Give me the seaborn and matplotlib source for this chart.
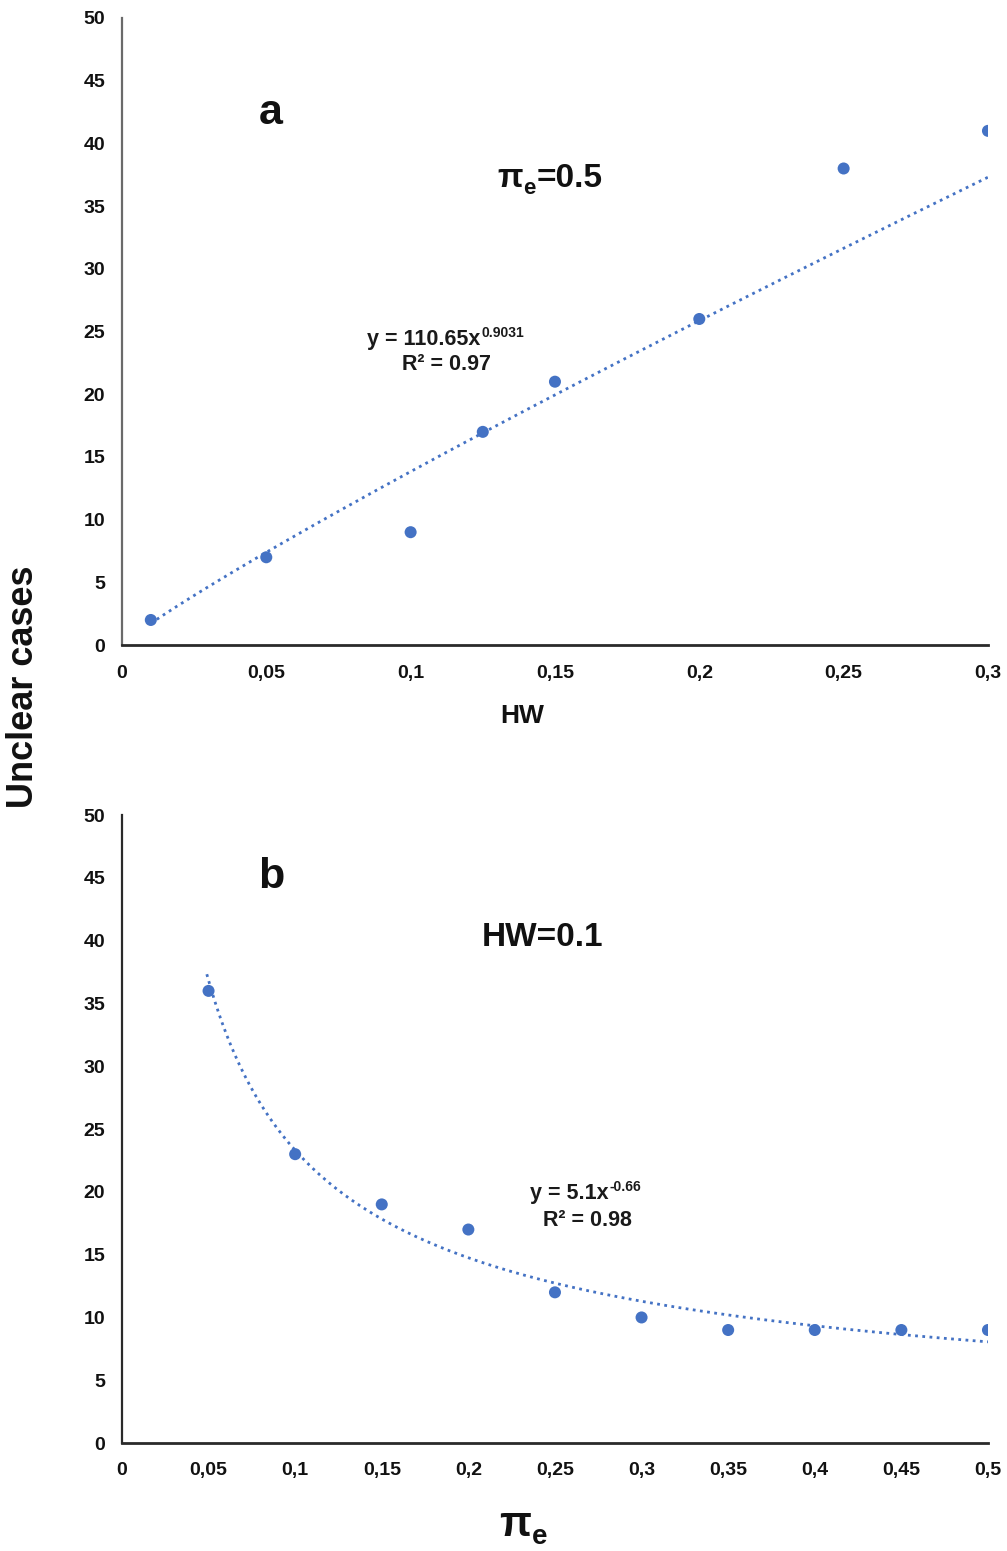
import numpy as np
import pandas as pd
import matplotlib
matplotlib.use("Agg")
import matplotlib.pyplot as plt
import seaborn as sns

# Panel a: unclear cases versus HW (pi_e = 0.5)
hw_values = [0.01, 0.05, 0.1, 0.125, 0.15, 0.2, 0.25, 0.3]
hw_cases = [2, 7, 9, 17, 21, 26, 38, 41]
fit_a_coef, fit_a_exp = 110.65, 0.9031

# Panel b: unclear cases versus pi_e (HW = 0.1)
pie_values = [0.05, 0.1, 0.15, 0.2, 0.25, 0.3, 0.35, 0.4, 0.45, 0.5]
pie_cases = [36, 23, 19, 17, 12, 10, 9, 9, 9, 9]
fit_b_coef, fit_b_exp = 5.1, -0.66

y_ticks = [0, 5, 10, 15, 20, 25, 30, 35, 40, 45, 50]
x_ticks_a = [0, 0.05, 0.1, 0.15, 0.2, 0.25, 0.3]
x_labels_a = ["0", "0,05", "0,1", "0,15", "0,2", "0,25", "0,3"]
x_ticks_b = [0, 0.05, 0.1, 0.15, 0.2, 0.25, 0.3, 0.35, 0.4, 0.45, 0.5]
x_labels_b = ["0", "0,05", "0,1", "0,15", "0,2", "0,25", "0,3", "0,35", "0,4", "0,45", "0,5"]

sns.set_theme(style="white")
plt.rcParams["font.family"] = ["Liberation Sans", "DejaVu Sans"]
plt.rcParams["font.weight"] = "bold"

BLUE = "#4472C4"
INK = "#111111"

W, H = 1007, 1551
fig = plt.figure(figsize=(W / 100, H / 100), dpi=100)
ax_a = fig.add_axes([0.1211, 0.5841, 0.860, 0.4043])
ax_b = fig.add_axes([0.1211, 0.0696, 0.860, 0.4049])


def fx(px):
    return px / W


def fy(py):
    return 1 - py / H


def style_axis(ax, xmax, xticks, xlabels, spine_color, tick_len):
    ax.set_xlim(0, xmax)
    ax.set_ylim(0, 50)
    ax.set_yticks(y_ticks)
    ax.set_xticks(xticks)
    ax.set_xticklabels(xlabels)
    for side in ("top", "right"):
        ax.spines[side].set_visible(False)
    ax.spines["left"].set_color(spine_color)
    ax.spines["left"].set_linewidth(1.6)
    ax.spines["bottom"].set_color("#2a2a2a")
    ax.spines["bottom"].set_linewidth(2.0)
    ax.tick_params(axis="y", length=0, pad=12, labelsize=14, labelcolor=INK)
    ax.tick_params(axis="x", length=tick_len, width=1.2, color="#2a2a2a",
                   direction="out", pad=14 - tick_len, labelsize=14, labelcolor=INK)
    for lab in ax.get_xticklabels() + ax.get_yticklabels():
        lab.set_fontweight("bold")
    ax.set_xlabel("")
    ax.set_ylabel("")


def equation(ax, x0, y0, base, sup, r2, r2x, r2y):
    # Trendline equation with a raised exponent, plus its R² line
    t = fig.text(fx(x0), fy(y0), base, ha="left", va="center",
                 fontsize=15.5, fontweight="bold", color="#1a1a1a")
    ax.annotate(sup, xy=(1, 1), xycoords=t, xytext=(0.5, 2.5),
                textcoords="offset points", ha="left", va="top",
                fontsize=10, fontweight="bold", color="#1a1a1a")
    fig.text(fx(r2x), fy(r2y), r2, ha="center", va="center",
             fontsize=15.5, fontweight="bold", color="#1a1a1a")


def pi_e(x0, y0, size, sub_size, suffix=""):
    # Greek pi with subscript e, optionally followed by more text
    p = fig.text(fx(x0), fy(y0), "π", ha="left", va="bottom",
                 fontsize=size, fontweight="bold", color=INK)
    e = ax_a.annotate("e", xy=(1, 0), xycoords=p, xytext=(0.5, -3.5),
                      textcoords="offset points", ha="left", va="bottom",
                      fontsize=sub_size, fontweight="bold", color=INK)
    if suffix:
        ax_a.annotate(suffix, xy=(1, 0), xycoords=(e, p), xytext=(0.5, 0),
                      textcoords="offset points", ha="left", va="bottom",
                      fontsize=size, fontweight="bold", color=INK)


# ---- panel a ----
df_a = pd.DataFrame({"HW": hw_values, "cases": hw_cases})
xa = np.linspace(min(hw_values), max(hw_values), 200)
fit_a = pd.DataFrame({"HW": xa, "cases": fit_a_coef * xa ** fit_a_exp})
sns.lineplot(data=fit_a, x="HW", y="cases", ax=ax_a, color=BLUE,
             linestyle=(0, (1, 1.6)), linewidth=2.0)
sns.scatterplot(data=df_a, x="HW", y="cases", ax=ax_a, color=BLUE,
                s=75, edgecolor="none", zorder=3)
style_axis(ax_a, 0.3, x_ticks_a, x_labels_a, "#6a6a6a", 5)

fig.text(fx(522), fy(716), "HW", ha="center", va="center",
         fontsize=19, fontweight="bold", color=INK)
fig.text(fx(271), fy(113), "a", ha="center", va="center",
         fontsize=31, fontweight="bold", color=INK)
pi_e(497, 194, 24, 16, "=0.5")
equation(ax_a, 367, 340, "y = 110.65x", "0.9031", "R² = 0.97", 447, 364)

# ---- panel b ----
df_b = pd.DataFrame({"pie": pie_values, "cases": pie_cases})
xb = np.linspace(0.049, max(pie_values), 200)
fit_b = pd.DataFrame({"pie": xb, "cases": fit_b_coef * xb ** fit_b_exp})
sns.lineplot(data=fit_b, x="pie", y="cases", ax=ax_b, color=BLUE,
             linestyle=(0, (1, 1.6)), linewidth=2.0)
sns.scatterplot(data=df_b, x="pie", y="cases", ax=ax_b, color=BLUE,
                s=75, edgecolor="none", zorder=3)
style_axis(ax_b, 0.5, x_ticks_b, x_labels_b, "#2a2a2a", 0)

fig.text(fx(271), fy(877), "b", ha="center", va="center",
         fontsize=31, fontweight="bold", color=INK)
fig.text(fx(543), fy(938), "HW=0.1", ha="center", va="center",
         fontsize=24, fontweight="bold", color=INK)
equation(ax_b, 530, 1194, "y = 5.1x", "-0.66", "R² = 0.98", 587, 1220)
pi_e(499, 1545, 30, 20)

fig.text(fx(24), fy(687), "Unclear cases", rotation=90, ha="center", va="center",
         fontsize=26, fontweight="bold", color=INK)

fig.savefig("out.png", dpi=100, facecolor="white")
